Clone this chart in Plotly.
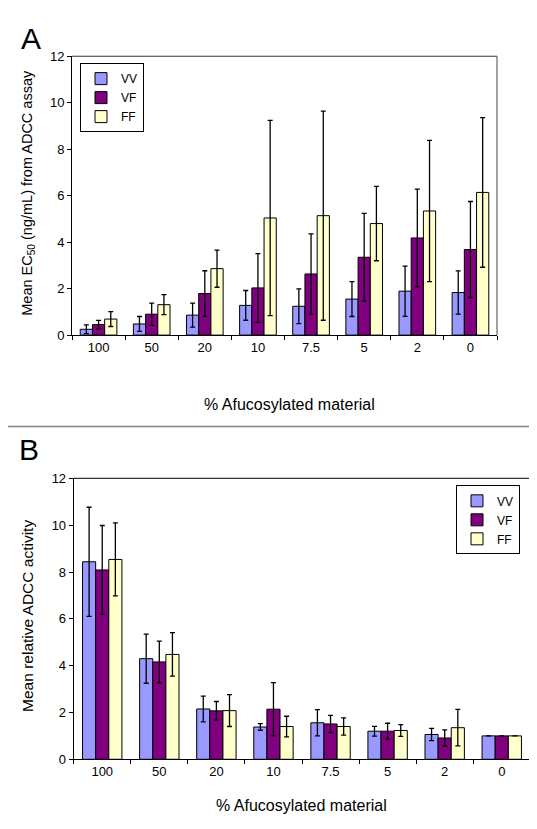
import plotly.graph_objects as go

categories = ["100", "50", "20", "10", "7.5", "5", "2", "0"]
series_names = ["VV", "VF", "FF"]
colors = ["#9999FF", "#800080", "#FFFFCC"]

# Panel A: Mean EC50 (ng/mL)
a_vv = [0.25, 0.48, 0.86, 1.28, 1.24, 1.55, 1.89, 1.83]
a_vv_err = [0.19, 0.32, 0.52, 0.64, 0.75, 0.75, 1.08, 0.93]
a_vf = [0.45, 0.90, 1.79, 2.03, 2.63, 3.35, 4.18, 3.68]
a_vf_err = [0.18, 0.48, 0.98, 1.48, 1.73, 1.89, 2.10, 2.07]
a_ff = [0.69, 1.31, 2.86, 5.04, 5.14, 4.80, 5.34, 6.14]
a_ff_err = [0.32, 0.43, 0.80, 4.20, 4.50, 1.60, 3.04, 3.22]

# Panel B: Mean relative ADCC activity
b_vv = [8.44, 4.30, 2.15, 1.38, 1.56, 1.20, 1.06, 1.00]
b_vv_err = [2.33, 1.05, 0.55, 0.14, 0.56, 0.21, 0.26, 0.0]
b_vf = [8.09, 4.16, 2.07, 2.14, 1.51, 1.20, 0.91, 1.00]
b_vf_err = [1.90, 0.89, 0.40, 1.14, 0.37, 0.34, 0.35, 0.0]
b_ff = [8.54, 4.48, 2.08, 1.40, 1.40, 1.23, 1.35, 1.00]
b_ff_err = [1.56, 0.93, 0.68, 0.44, 0.37, 0.25, 0.78, 0.0]

W, H = 537, 829
FONT = "Liberation Sans, Arial, sans-serif"

def py(px):
    return 1 - px / H

def pxx(px):
    return px / W

fig = go.Figure()

a_data = [(a_vv, a_vv_err), (a_vf, a_vf_err), (a_ff, a_ff_err)]
b_data = [(b_vv, b_vv_err), (b_vf, b_vf_err), (b_ff, b_ff_err)]

for i, (vals, errs) in enumerate(a_data):
    fig.add_trace(go.Bar(
        x=categories, y=vals, name=series_names[i],
        marker=dict(color=colors[i], line=dict(color="#000000", width=1)),
        error_y=dict(type="data", array=errs, visible=True, color="#000000", thickness=1.3, width=2.5),
        xaxis="x", yaxis="y", legend="legend",
    ))

for i, (vals, errs) in enumerate(b_data):
    fig.add_trace(go.Bar(
        x=categories, y=vals, name=series_names[i],
        marker=dict(color=colors[i], line=dict(color="#000000", width=1)),
        error_y=dict(type="data", array=errs, visible=True, color="#000000", thickness=1.3, width=2.5),
        xaxis="x2", yaxis="y2", legend="legend2",
    ))

axis_common = dict(
    showgrid=False, zeroline=False, showline=True, linecolor="#000000", linewidth=1,
    ticks="outside", ticklen=4, tickcolor="#000000",
    tickfont=dict(family=FONT, size=13, color="#000000"),
)

fig.update_layout(
    width=W, height=H,
    margin=dict(l=0, r=0, t=0, b=0),
    paper_bgcolor="white", plot_bgcolor="white",
    font=dict(family=FONT, color="#000000"),
    barmode="group", bargap=0.31, bargroupgap=0,
    xaxis=dict(domain=[pxx(64), pxx(489)], anchor="y", type="category",
               tickson="boundaries", **axis_common),
    yaxis=dict(domain=[py(326), py(42)], anchor="x", range=[0, 12],
               tickvals=[0, 2, 4, 6, 8, 10, 12], **axis_common),
    xaxis2=dict(domain=[pxx(65.7), pxx(522.3)], anchor="y2", type="category",
                tickson="boundaries", **axis_common),
    yaxis2=dict(domain=[py(758), py(472)], anchor="x2", range=[0, 12],
                tickvals=[0, 2, 4, 6, 8, 10, 12], **axis_common),
    legend=dict(x=pxx(72), y=py(49), xanchor="left", yanchor="top",
                bordercolor="#000000", borderwidth=1, bgcolor="white",
                font=dict(family=FONT, size=12, color="#000000"),
                itemwidth=30, tracegroupgap=0),
    legend2=dict(x=pxx(512), y=py(479), xanchor="right", yanchor="top",
                 bordercolor="#000000", borderwidth=1, bgcolor="white",
                 font=dict(family=FONT, size=12, color="#000000"),
                 itemwidth=30, tracegroupgap=0),
    showlegend=True,
)

# plot frames (top/right borders in gray)
for (x0, x1, y0, y1) in [(64, 489, 42, 326), (65.7, 522.3, 472, 758)]:
    fig.add_shape(type="line", xref="paper", yref="paper",
                  x0=pxx(x0), x1=pxx(x1), y0=py(y0), y1=py(y0),
                  line=dict(color="#333333", width=1.2))
    fig.add_shape(type="line", xref="paper", yref="paper",
                  x0=pxx(x1), x1=pxx(x1), y0=py(y0), y1=py(y1),
                  line=dict(color="#666666", width=1.2))

# separator between panels
fig.add_shape(type="line", xref="paper", yref="paper",
              x0=0, x1=1, y0=py(419), y1=py(419),
              line=dict(color="#808080", width=1.5))

annotations = [
    dict(text="A", x=pxx(23), y=py(24), font=dict(size=30)),
    dict(text="B", x=pxx(21), y=py(443), font=dict(size=30)),
    dict(text="% Afucosylated material", x=pxx(281), y=py(397), font=dict(size=16)),
    dict(text="% Afucosylated material", x=pxx(293), y=py(805), font=dict(size=16)),
    dict(text="Mean EC<sub>50</sub> (ng/mL) from ADCC assay", x=pxx(20), y=py(181),
         font=dict(size=14.5), textangle=-90),
    dict(text="Mean relative ADCC activity", x=pxx(20), y=py(612),
         font=dict(size=15.5), textangle=-90),
]
for a in annotations:
    a.update(xref="paper", yref="paper", showarrow=False, xanchor="center", yanchor="middle")
    a["font"].update(family=FONT, color="#000000")
    fig.add_annotation(**a)

fig.write_html("out.html")
